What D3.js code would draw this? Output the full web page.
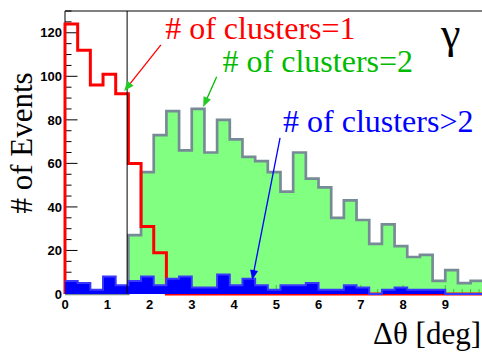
<!DOCTYPE html>
<html>
<head>
<meta charset="utf-8">
<script src="https://cdn.jsdelivr.net/npm/d3@7"></script>
<style>
  body { margin: 0; background: #fff; }
  svg { display: block; }
</style>
</head>
<body>
<svg width="482" height="352"></svg>
<script>
var svg = d3.select("svg"),
    width = +svg.attr("width"),
    height = +svg.attr("height");

// bin edges: 0 .. 9.9 in steps of 0.3 (33 bins)
var binWidth = 0.3;
var nBins = 33;

// # of clusters = 1 (red outline)
var oneCluster = [124, 112, 96, 101, 92, 60, 31, 19, 0, 0, 0, 0, 0, 0, 0, 0, 0,
                  0, 0, 0, 0, 0, 0, 0, 0, 0, 0, 0, 0, 0, 0, 0, 0];
// # of clusters = 2 (green fill)
var twoClusters = [0, 0, 0, 0, 0, 27, 56, 73, 84, 66, 85, 65, 80, 71, 63, 61, 56,
                   47, 65, 53, 49, 35, 43, 34, 23, 32, 22, 17, 18, 6, 11, 5, 6];
// # of clusters > 2 (blue fill)
var manyClusters = [6, 5, 2, 8, 4, 6, 8, 4, 7, 8, 3, 3, 9, 4, 7, 4, 2,
                    4, 4, 5, 2, 2, 4, 3, 0, 2, 3, 2, 2, 2, 0, 0, 0];

var yTicks = [0, 20, 40, 60, 80, 100, 120];
var xTicks = [0, 1, 2, 3, 4, 5, 6, 7, 8, 9];
var cutValue = 1.47;

var x = d3.scaleLinear().domain([0, 9.9]).range([65, 483.3]);
var y = d3.scaleLinear().domain([0, 130]).range([294, 11]);

var serif = "'Liberation Serif', 'Times New Roman', serif";
var sans = "'Liberation Sans', Arial, sans-serif";

function histPoints(vals) {
    var pts = [[0, 0]];
    vals.forEach(function(v, i) { pts.push([i * binWidth, v]); });
    pts.push([nBins * binWidth, vals[vals.length - 1]]);
    return pts;
}

var stepLine = d3.line()
    .x(function(d) { return x(d[0]); })
    .y(function(d) { return y(d[1]); })
    .curve(d3.curveStepAfter);

var stepArea = d3.area()
    .x(function(d) { return x(d[0]); })
    .y0(y(0))
    .y1(function(d) { return y(d[1]); })
    .curve(d3.curveStepAfter);

// frame top
svg.append("line")
    .attr("x1", x(0)).attr("x2", width + 5)
    .attr("y1", y(130)).attr("y2", y(130))
    .attr("stroke", "#000").attr("stroke-width", 1);

// y axis with inward ticks
var yAxis = svg.append("g").attr("class", "y-axis");
yAxis.append("line")
    .attr("x1", x(0)).attr("x2", x(0))
    .attr("y1", y(0)).attr("y2", y(130))
    .attr("stroke", "#555").attr("stroke-width", 1.5);
yAxis.selectAll("line.tick")
    .data(d3.range(0, 131, 5))
    .enter().append("line")
    .attr("class", "tick")
    .attr("x1", x(0))
    .attr("x2", function(d) { return x(0) + (d % 20 === 0 ? 12.5 : 6.5); })
    .attr("y1", function(d) { return y(d); })
    .attr("y2", function(d) { return y(d); })
    .attr("stroke", "#000").attr("stroke-width", 1);
yAxis.selectAll("text")
    .data(yTicks)
    .enter().append("text")
    .attr("x", 62)
    .attr("y", function(d) { return y(d); })
    .attr("dy", "0.36em")
    .attr("text-anchor", "end")
    .style("font-family", sans)
    .style("font-weight", "bold")
    .style("font-size", "13px")
    .text(function(d) { return d; });

// green histogram
svg.append("path")
    .attr("d", stepArea(histPoints(twoClusters)))
    .attr("fill", "#80ff80");
svg.append("path")
    .attr("d", stepLine(histPoints(twoClusters)))
    .attr("fill", "none")
    .attr("stroke", "#778b96")
    .attr("stroke-width", 2.7);

// x axis ticks (show through only near the bottom)
svg.selectAll("line.xtick")
    .data(d3.range(0, 50).map(function(i) { return i * 0.2; }))
    .enter().append("line")
    .attr("class", "xtick")
    .attr("x1", function(d) { return x(d); })
    .attr("x2", function(d) { return x(d); })
    .attr("y1", y(0))
    .attr("y2", function(d) { return y(0) - (Math.abs(d - Math.round(d)) < 1e-6 ? 9 : 5); })
    .attr("stroke", "#33cc33").attr("stroke-width", 1);

// red histogram
svg.append("path")
    .attr("d", stepLine(histPoints(oneCluster)))
    .attr("fill", "none")
    .attr("stroke", "#ff0000")
    .attr("stroke-width", 3);

// blue histogram
svg.append("path")
    .attr("d", stepArea(histPoints(manyClusters)))
    .attr("fill", "#0000ff");
svg.append("path")
    .attr("d", stepLine(histPoints(manyClusters).slice(1)))
    .attr("fill", "none")
    .attr("stroke", "#3a3aff")
    .attr("stroke-width", 2);

// cut line
svg.append("line")
    .attr("x1", x(cutValue)).attr("x2", x(cutValue))
    .attr("y1", y(130)).attr("y2", y(0))
    .attr("stroke", "#000").attr("stroke-width", 1);

// x tick labels
svg.selectAll("text.xlab")
    .data(xTicks)
    .enter().append("text")
    .attr("class", "xlab")
    .attr("x", function(d) { return x(d); })
    .attr("y", 308.5)
    .attr("text-anchor", "middle")
    .style("font-family", sans)
    .style("font-weight", "bold")
    .style("font-size", "13px")
    .text(function(d) { return d; });

// axis titles
svg.append("text")
    .attr("x", 481)
    .attr("y", 344)
    .attr("text-anchor", "end")
    .style("font-family", serif)
    .style("font-size", "31px")
    .text("\u0394\u03b8 [deg]");

svg.append("text")
    .attr("transform", "translate(32,143) rotate(-90)")
    .attr("text-anchor", "middle")
    .style("font-family", serif)
    .style("font-size", "31px")
    .text("# of Events");

svg.append("text")
    .attr("x", x(8.9))
    .attr("y", y(113))
    .style("font-family", serif)
    .style("font-size", "44px")
    .text("\u03b3");

// annotations: label text, label anchor, arrow start and tip (data units)
var notes = [
    { text: "# of clusters=1", color: "#ff0000", head: "#22cc22", at: [2.37, 117], from: [2.27, 114.4], to: [1.40, 93.2] },
    { text: "# of clusters=2", color: "#00bb00", head: "#22cc22", at: [3.73, 102], from: [3.59, 99.8], to: [3.27, 85.9] },
    { text: "# of clusters>2", color: "#0000ff", head: "#0000ff", at: [5.16, 74.6], from: [5.09, 71.7], to: [4.43, 6.4] }
];

notes.forEach(function(n) {
    svg.append("text")
        .attr("x", x(n.at[0]))
        .attr("y", y(n.at[1]))
        .attr("fill", n.color)
        .style("font-family", serif)
        .style("font-size", "32px")
        .text(n.text);

    var x1 = x(n.from[0]), y1 = y(n.from[1]),
        x2 = x(n.to[0]), y2 = y(n.to[1]);
    var ang = Math.atan2(y2 - y1, x2 - x1);
    var len = 10, half = 4;
    svg.append("line")
        .attr("x1", x1).attr("y1", y1)
        .attr("x2", x2 - Math.cos(ang) * len * 0.8)
        .attr("y2", y2 - Math.sin(ang) * len * 0.8)
        .attr("stroke", n.color).attr("stroke-width", 1.3);
    var bx = x2 - Math.cos(ang) * len, by = y2 - Math.sin(ang) * len;
    var px = -Math.sin(ang) * half, py = Math.cos(ang) * half;
    svg.append("path")
        .attr("d", "M" + x2 + "," + y2 +
                   "L" + (bx + px) + "," + (by + py) +
                   "L" + (bx - px) + "," + (by - py) + "Z")
        .attr("fill", n.head);
});
</script>
</body>
</html>
